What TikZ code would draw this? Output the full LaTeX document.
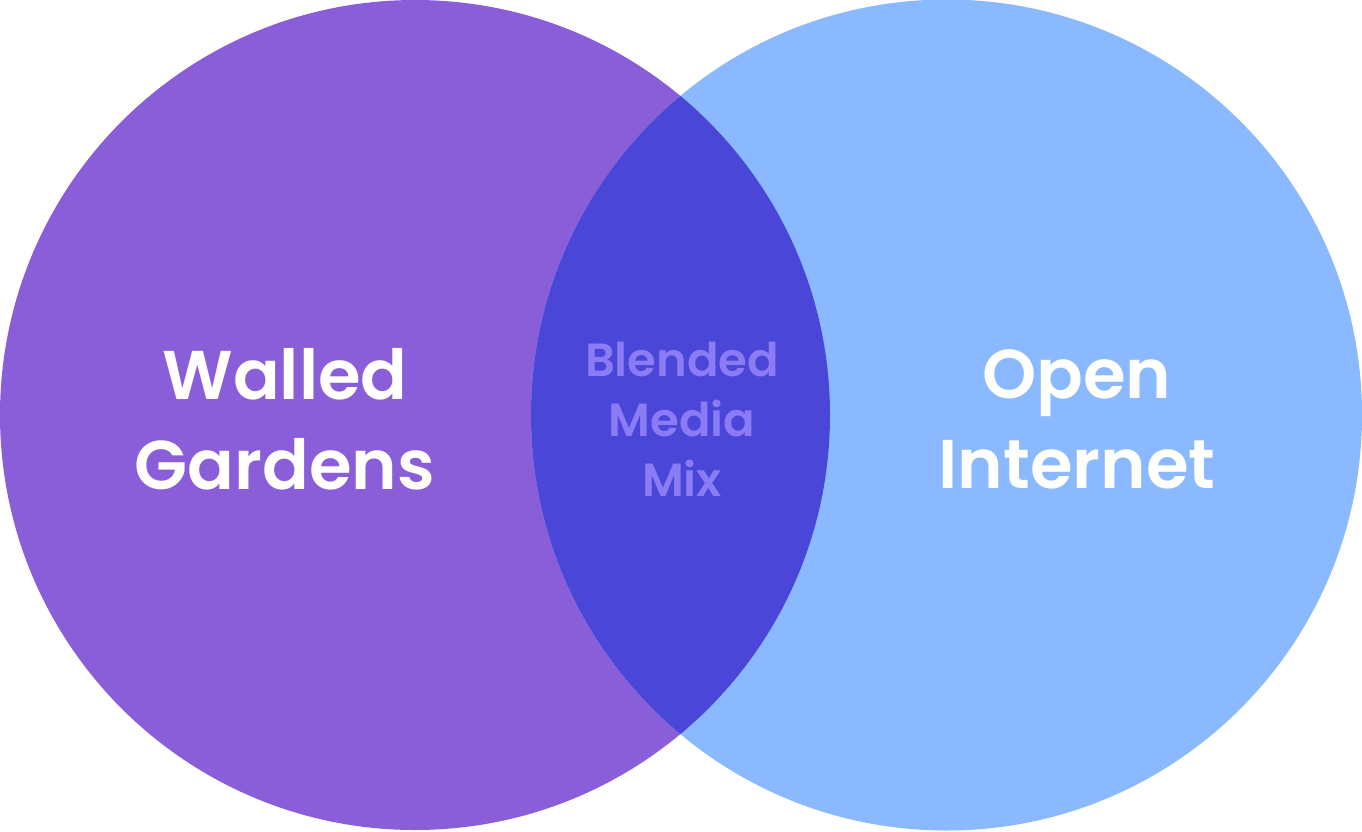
\documentclass[tikz,border=0pt]{standalone}
\usepackage{fontspec}
\newfontfamily\labelfont{Poppins SemiBold}
\definecolor{leftc}{RGB}{139,94,217}
\definecolor{rightc}{RGB}{138,185,255}
\definecolor{midc}{RGB}{74,70,216}
\definecolor{midtext}{RGB}{139,124,246}
\tikzset{
  bigl/.style={font=\labelfont\fontsize{69}{90}\selectfont, text=white, align=center, inner sep=0pt},
  smalll/.style={font=\labelfont\fontsize{46.5}{60}\selectfont, text=midtext, align=center, inner sep=0pt}
}
\begin{document}
\begin{tikzpicture}[x=1pt,y=-1pt]
\useasboundingbox (0,0) rectangle (1362,831);
\fill[leftc] (415,415) circle (415);
\fill[rightc] (946.5,415) circle (415.5);
\begin{scope}
  \clip (415,415) circle (415);
  \fill[midc] (946.5,415) circle (415.5);
\end{scope}
\node[bigl] (wg) at (285,419) {Walled\\Gardens};
\node[bigl] (oi) at (1077,419) {Open\\Internet};
\node[smalll] (bm) at (682,419) {Blended\\Media\\Mix};
\end{tikzpicture}
\end{document}
